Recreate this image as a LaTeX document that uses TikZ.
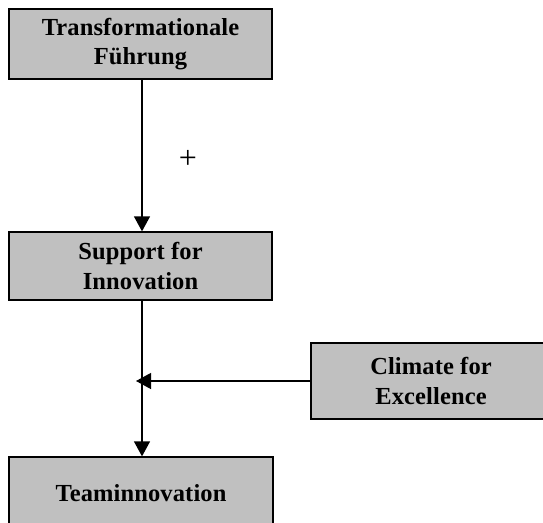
\documentclass[tikz,border=0pt]{standalone}
\usepackage{fontspec}
\setmainfont{Liberation Serif}
\newfontfamily\boxfont[LetterSpace=0.5]{Liberation Serif Bold}
\usetikzlibrary{arrows.meta}

\tikzset{
  boxnode/.style={draw=black, line width=1.3pt, fill={rgb,255:red,192;green,192;blue,192},
    rectangle, inner sep=0pt, align=center,
    font=\boxfont\fontsize{24.5}{29.5}\selectfont},
  link/.style={line width=1.3pt, -{Triangle[length=15pt,width=16pt]}},
  plain/.style={line width=1.3pt}
}

\begin{document}
\begin{tikzpicture}[x=1pt, y=-1pt]
  \clip (0,0) rectangle (543,522);

  % factor boxes
  \node[boxnode, minimum width=263pt, minimum height=70pt] (tf) at (140.5,44)
    {Transformationale\\Führung};
  \node[boxnode, minimum width=263pt, minimum height=68pt] (sup) at (140.5,266)
    {Support for\\Innovation};
  \node[boxnode, minimum width=240pt, minimum height=76pt] (clim) at (431,381)
    {Climate for\\Excellence};
  \node[boxnode, minimum width=264pt, minimum height=72pt] (team) at (141,493)
    {Teaminnovation};

  % vertical axis of the model and moderator junction
  \coordinate (spine) at (142,0);
  \coordinate (join) at (136,381);

  \draw[link] (tf.south -| spine) -- (sup.north -| spine);
  \draw[link] (sup.south -| spine) -- (team.north -| spine);
  \draw[link] (clim.west) -- (join);

  % sign of the effect
  \node[font=\fontsize{32}{32}\selectfont, inner sep=0pt] (sign) at (188,159) {+};
\end{tikzpicture}
\end{document}
